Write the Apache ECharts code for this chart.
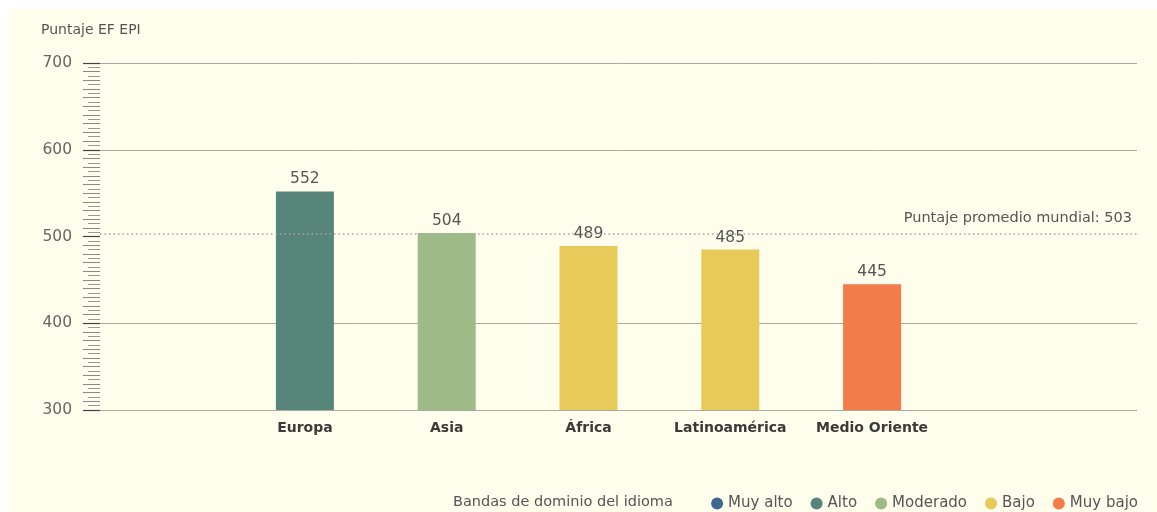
<!DOCTYPE html>
<html>
<head>
  <meta charset="UTF-8">
  <title>Puntaje EF EPI por región</title>
  <script src="https://cdn.jsdelivr.net/npm/echarts@6/dist/echarts.min.js"></script>
  <style type="text/css">
    html, body { margin: 0; padding: 0; background: #ffffff; }
    #wrap { position: relative; width: 1157px; height: 512px; }
    #panel { position: absolute; left: 8px; top: 9px; right: 0; bottom: 0; background: #fffeed; }
    #chart { position: absolute; left: 0; top: 0; width: 1157px; height: 512px; }
  </style>
</head>
<body>
<div id="wrap">
  <div id="panel"></div>
  <div id="chart"></div>
</div>
<script type="text/javascript">
    var regiones = ['Europa', 'Asia', 'África', 'Latinoamérica', 'Medio Oriente'];
    var puntajes = [552, 504, 489, 485, 445];
    // banda de cada region (indice en bandas)
    var bandaRegion = [1, 2, 3, 3, 4];
    var bandas = ['Muy alto', 'Alto', 'Moderado', 'Bajo', 'Muy bajo'];
    var coloresBanda = ['#3b6991', '#588579', '#9dba87', '#e8ca5b', '#f47c4b'];
    var promedioMundial = 503;
    var ejeY = { min: 300, max: 700, intervalo: 100 };

    var fuente = 'DejaVu Sans';
    var myChart = echarts.init(document.getElementById('chart'));

    var series = [];
    for (var b = 0; b < bandas.length; b++) {
        var datos = [];
        for (var i = 0; i < regiones.length; i++) {
            datos.push(bandaRegion[i] === b ? puntajes[i] : null);
        }
        series.push({
            name: bandas[b],
            type: 'bar',
            stack: 'regiones',
            xAxisIndex: 1,
            yAxisIndex: 2,
            barWidth: 58,
            itemStyle: { color: coloresBanda[b] },
            label: {
                show: true,
                position: 'top',
                distance: 4,
                color: '#555',
                fontSize: 15.5,
                fontFamily: fuente
            },
            data: datos
        });
    }

    // serie vacia solo para la linea del promedio
    series.push({
        type: 'line',
        xAxisIndex: 0,
        yAxisIndex: 0,
        data: [],
        silent: true,
        markLine: {
            silent: true,
            symbol: 'none',
            lineStyle: { color: '#a8a8a0', type: [1.5, 3], width: 1.5 },
            label: {
                position: 'insideEndTop',
                distance: [5, 8],
                formatter: 'Puntaje promedio mundial: ' + promedioMundial,
                color: '#555',
                fontSize: 14.5,
                fontFamily: fuente
            },
            data: [{ yAxis: promedioMundial }]
        }
    });

    var option = {
        animation: false,
        textStyle: { fontFamily: fuente },
        graphic: [{
            type: 'text',
            left: 41,
            top: 23,
            style: { text: 'Puntaje EF EPI', fill: '#555', fontSize: 14, fontFamily: fuente }
        }, {
            type: 'text',
            left: 453,
            top: 495,
            style: { text: 'Bandas de dominio del idioma', fill: '#555', fontSize: 14.5, fontFamily: fuente }
        }],
        legend: {
            data: bandas,
            right: 19,
            top: 496,
            padding: 0,
            icon: 'circle',
            itemWidth: 12,
            itemHeight: 12,
            itemGap: 18,
            selectedMode: false,
            textStyle: { color: '#555', fontSize: 15, fontFamily: fuente }
        },
        grid: [
            { left: 100, right: 20, top: 63, bottom: 102 },
            { left: 234, right: 214, top: 63, bottom: 102 }
        ],
        xAxis: [{
            gridIndex: 0,
            type: 'value',
            min: 0,
            max: 1,
            show: false
        }, {
            gridIndex: 1,
            type: 'category',
            data: regiones,
            axisLine: { show: false },
            axisTick: { show: false },
            axisLabel: {
                interval: 0,
                margin: 11,
                color: '#3a3a3a',
                fontSize: 14,
                fontWeight: 'bold',
                fontFamily: fuente
            }
        }],
        yAxis: [{
            gridIndex: 0,
            type: 'value',
            min: ejeY.min,
            max: ejeY.max,
            interval: ejeY.intervalo,
            axisLine: { show: false },
            axisTick: { show: true, length: 17, lineStyle: { color: '#444', width: 1.2 } },
            minorTick: { show: true, splitNumber: 20, length: 12, lineStyle: { color: '#999', width: 1 } },
            // sin linea de 500: la tapa la linea del promedio
            splitLine: { lineStyle: { color: ['#aaa9a0', '#aaa9a0', 'rgba(0,0,0,0)', '#aaa9a0', '#aaa9a0'], width: 1 } },
            axisLabel: { margin: 28, color: '#666', fontSize: 15.5, fontFamily: fuente }
        }, {
            // marcas largas cada 10 puntos
            gridIndex: 0,
            type: 'value',
            position: 'left',
            min: ejeY.min,
            max: ejeY.max,
            interval: ejeY.intervalo,
            axisLine: { show: false },
            axisTick: { show: false },
            minorTick: { show: true, splitNumber: 10, length: 17, lineStyle: { color: '#888', width: 1 } },
            splitLine: { show: false },
            axisLabel: { show: false }
        }, {
            gridIndex: 1,
            type: 'value',
            min: ejeY.min,
            max: ejeY.max,
            interval: ejeY.intervalo,
            show: false
        }],
        series: series
    };
    myChart.setOption(option);
</script>
</body>
</html>
